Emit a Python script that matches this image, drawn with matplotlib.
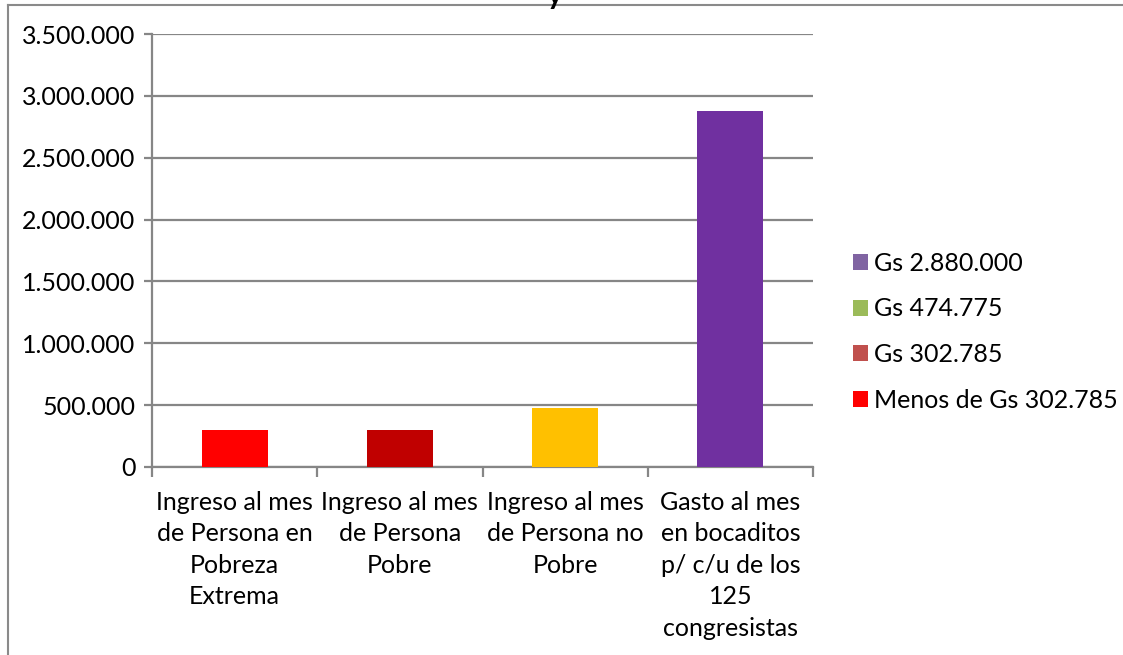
import matplotlib.pyplot as plt
from matplotlib.patches import Patch
from matplotlib.lines import Line2D
from matplotlib.ticker import FuncFormatter

plt.rcParams['font.family'] = ['Lato', 'DejaVu Sans']

categories = [
    "Ingreso al mes\nde Persona en\nPobreza\nExtrema",
    "Ingreso al mes\nde Persona\nPobre",
    "Ingreso al mes\nde Persona no\nPobre",
    "Gasto al mes\nen bocaditos\np/ c/u de los\n125\ncongresistas",
]
values = [302785, 302785, 474775, 2880000]
bar_colors = ["#FF0000", "#C00000", "#FFC000", "#7030A0"]

legend_labels = ["Gs 2.880.000", "Gs 474.775", "Gs 302.785", "Menos de Gs 302.785"]
legend_colors = ["#8064A2", "#9BBB59", "#C0504D", "#FF0000"]

grid_col = "#868686"
FS = 18


def miles(v, pos):
    return "{:,.0f}".format(v).replace(",", ".")


fig = plt.figure(figsize=(11.23, 6.55), dpi=100)
W, H = 1123, 655
ax = fig.add_axes([152 / W, 1 - 467 / H, (813 - 152) / W, (467 - 34) / H])

x = list(range(len(values)))
ax.bar(x, values, width=0.4, color=bar_colors, zorder=3)

ax.set_xlim(-0.5, len(values) - 0.5)
ax.set_ylim(0, 3500000)
ax.set_yticks(range(0, 3500001, 500000))
ax.yaxis.set_major_formatter(FuncFormatter(miles))
ax.set_xticks([i - 0.5 for i in range(len(values) + 1)], minor=False)
ax.set_xticklabels([])
ax.set_xticks(x, minor=True)
ax.set_xticklabels(categories, minor=True, fontsize=FS, linespacing=1.45, va='top')
ax.tick_params(axis='x', which='minor', length=0, pad=17)
ax.tick_params(axis='x', which='major', length=7, color=grid_col, width=1.6, direction='out')
ax.tick_params(axis='y', length=6, color=grid_col, width=1.6, labelsize=FS, pad=6)

ax.grid(axis='y', color=grid_col, linewidth=1.6, zorder=0)
for s in ['top', 'right']:
    ax.spines[s].set_visible(False)
for s in ['left', 'bottom']:
    ax.spines[s].set_color(grid_col)
    ax.spines[s].set_linewidth(1.6)

handles = [Patch(facecolor=c, edgecolor='none') for c in legend_colors]
fig.legend(handles, legend_labels, loc='upper left', bbox_to_anchor=(853 / W, 1 - 252 / H),
           frameon=False, fontsize=FS, handlelength=0.6, handleheight=0.6,
           handletextpad=0.25, labelspacing=0.9, borderaxespad=0, borderpad=0)

# chart frame (left and top edge)
fig.add_artist(Line2D([8 / W, 8 / W], [0, 1 - 5 / H], color="#8a8a8a", linewidth=1.5,
                      transform=fig.transFigure))
fig.add_artist(Line2D([8 / W, 1], [1 - 5 / H, 1 - 5 / H], color="#8a8a8a", linewidth=1.5,
                      transform=fig.transFigure))

# cut-off title
fig.text(555 / W, 1 - 4 / H, "y", fontsize=22, fontweight='bold', ha='center', va='baseline')

fig.savefig("out.png", dpi=100)
